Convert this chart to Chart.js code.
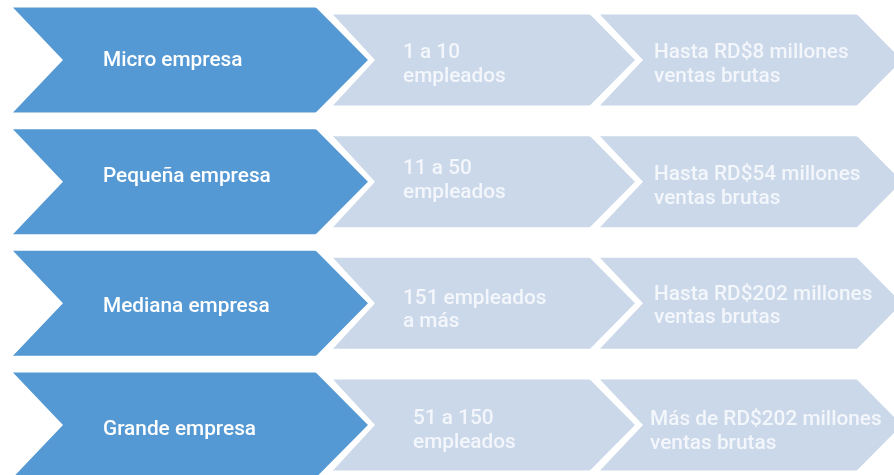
<!DOCTYPE html>
<html>
<head>
<meta charset="utf-8">
<script src="https://cdn.jsdelivr.net/npm/chart.js@4"></script>
<style>
  html, body { margin: 0; padding: 0; background: #fff; }
  canvas { display: block; }
</style>
</head>
<body>
<canvas id="chart" width="894" height="475"></canvas>
<script>
// Tipos de empresa (filas)
const tipos = ['Micro empresa', 'Pequeña empresa', 'Mediana empresa', 'Grande empresa'];

// Empleados por tipo (2 líneas)
const empleados = [
    ['1 a 10', 'empleados'],
    ['11 a 50', 'empleados'],
    ['151 empleados', 'a más'],
    ['51 a 150', 'empleados']
];

// Ventas brutas por tipo (2 líneas)
const ventas = [
    ['Hasta RD$8 millones', 'ventas brutas'],
    ['Hasta RD$54 millones', 'ventas brutas'],
    ['Hasta RD$202 millones', 'ventas brutas'],
    ['Más de RD$202 millones', 'ventas brutas']
];

const columnas = [tipos.map(t => [t]), empleados, ventas];

// estilo de cada columna de flechas (dx/dy: pequeños ajustes del texto por fila)
const estilos = [
    { fill: '#5499d3', text: '#ffffff', width: 355, height: 105, depth: 52, notch: 50, textX: 90,
      dx: [0, 0, 0, 0], dy: [0, -6, 2, 4] },
    { fill: '#cbd8e9', text: '#f3f6fb', width: 302, height: 91, depth: 45, notch: 42, textX: 70,
      dx: [0, 0, 0, 10], dy: [0, -6, 2, 1] },
    { fill: '#cbd8e9', text: '#f3f6fb', width: 302, height: 91, depth: 45, notch: 43, textX: 54,
      dx: [0, 0, 0, -4], dy: [0, 0, -2, 2] }
];

const FONT = '500 20.8px Roboto';
const LINEA = 23.5;

function chevron(ctx, tipX, cy, st) {
    const h = st.height / 2;
    const left = tipX - st.width;
    const r = 3;
    ctx.beginPath();
    ctx.moveTo(left, cy - h);
    ctx.arcTo(tipX - st.depth, cy - h, tipX, cy, r);
    ctx.lineTo(tipX, cy);
    ctx.arcTo(tipX - st.depth, cy + h, left, cy + h, r);
    ctx.lineTo(left, cy + h);
    ctx.lineTo(left + st.notch, cy);
    ctx.closePath();
    ctx.fillStyle = st.fill;
    ctx.fill();
}

const flechasPlugin = {
    id: 'flechas',
    afterDatasetsDraw(chart) {
        const ctx = chart.ctx;
        ctx.save();
        // dibujar de derecha a izquierda
        for (let c = chart.data.datasets.length - 1; c >= 0; c--) {
            const st = estilos[c];
            const meta = chart.getDatasetMeta(c);
            meta.data.forEach((pt, i) => {
                chevron(ctx, pt.x, pt.y, st);
                const lines = columnas[c][i];
                const tx = pt.x - st.width + st.textX + st.dx[i];
                const ty = pt.y + st.dy[i];
                ctx.fillStyle = st.text;
                ctx.font = FONT;
                ctx.textAlign = 'left';
                ctx.textBaseline = 'alphabetic';
                if (lines.length === 1) {
                    ctx.fillText(lines[0], tx, ty + 6.5);
                } else {
                    ctx.fillText(lines[0], tx, ty - 1.5);
                    ctx.fillText(lines[1], tx, ty - 1.5 + LINEA);
                }
            });
        }
        ctx.restore();
    }
};

new Chart(document.getElementById('chart'), {
    type: 'scatter',
    data: {
        datasets: columnas.map((col, c) => ({
            label: 'col' + c,
            data: col.map((_, i) => ({ x: c + 1, y: i })),
            pointRadius: 0,
            clip: false
        }))
    },
    options: {
        responsive: false,
        animation: false,
        layout: { padding: 0 },
        plugins: {
            legend: { display: false },
            tooltip: { enabled: false }
        },
        scales: {
            x: { type: 'linear', display: false, min: -0.378, max: 2.970 },
            y: { type: 'linear', display: false, reverse: true, min: -0.493, max: 3.411 }
        }
    },
    plugins: [flechasPlugin]
});
</script>
</body>
</html>
